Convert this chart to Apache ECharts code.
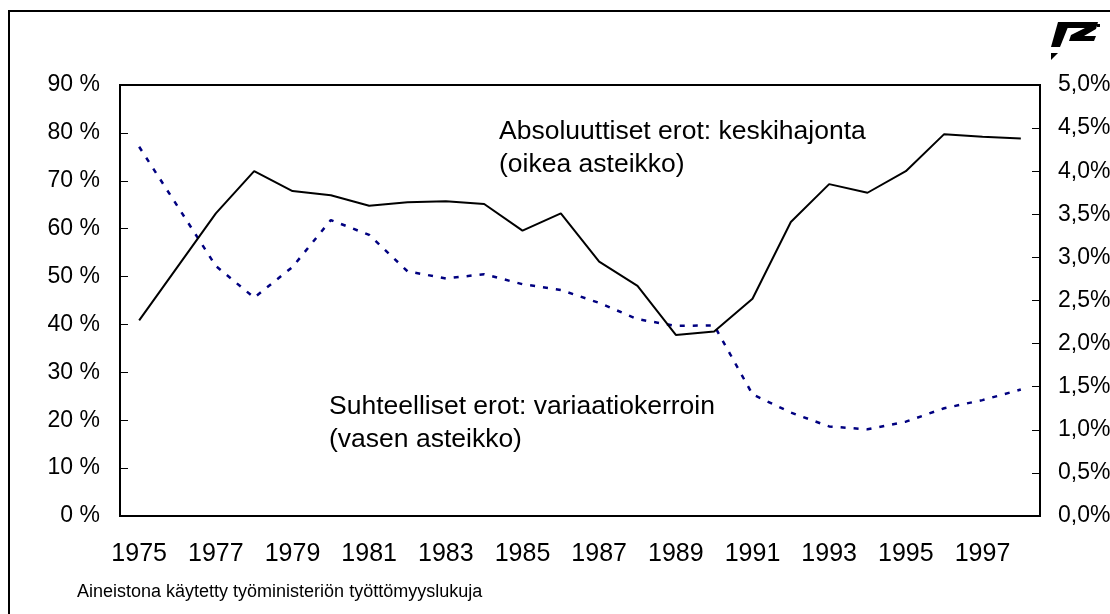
<!DOCTYPE html>
<html>
<head>
<meta charset="utf-8">
<script src="https://cdn.jsdelivr.net/npm/echarts@6/dist/echarts.min.js"></script>
<style>
html,body{margin:0;padding:0;background:#fff;}
#chart{width:1110px;height:614px;}
</style>
</head>
<body>
<div id="chart"></div>
<script>
const years = ['1975','1976','1977','1978','1979','1980','1981','1982','1983','1984','1985','1986','1987','1988','1989','1990','1991','1992','1993','1994','1995','1996','1997','1998'];
// Absoluuttiset erot: keskihajonta (right axis, %)
const keskihajonta = [2.27,2.89,3.51,4.00,3.77,3.72,3.60,3.64,3.65,3.62,3.31,3.51,2.95,2.67,2.10,2.14,2.52,3.41,3.85,3.75,4.00,4.43,4.40,4.38];
// Suhteelliset erot: variaatiokerroin (left axis, %)
const variaatiokerroin = [77.1,64.7,52.2,45.6,52.0,61.8,58.7,51.1,49.6,50.5,48.4,47.2,44.5,41.1,39.7,39.8,25.4,21.6,18.7,18.1,19.7,22.5,24.2,26.4];
const labelAbs = ['Absoluuttiset erot: keskihajonta', '(oikea asteikko)'];
const labelRel = ['Suhteelliset erot: variaatiokerroin', '(vasen asteikko)'];
const sourceText = 'Aineistona käytetty työministeriön työttömyyslukuja';

const FONT = 'Liberation Sans, Arial, sans-serif';
const chart = echarts.init(document.getElementById('chart'), null, {renderer:'canvas'});
chart.setOption({
  animation:false,
  backgroundColor:'#fff',
  grid:{left:120,right:70,top:85,bottom:98,containLabel:false,outerBoundsMode:'none',show:true,borderColor:'#000',borderWidth:2,backgroundColor:'transparent'},
  xAxis:{
    type:'category', data:years, boundaryGap:true,
    axisLine:{lineStyle:{color:'#000',width:2}},
    axisTick:{inside:true,length:8,interval:1,lineStyle:{color:'#000',width:1}},
    axisLabel:{interval:1,color:'#000',fontFamily:FONT,fontSize:25,margin:26},
    splitLine:{show:false}
  },
  yAxis:[
    {type:'value',min:0,max:90,interval:10,position:'left',
     axisLine:{show:true,lineStyle:{color:'#000',width:2}},
     axisTick:{show:true,inside:true,length:8,lineStyle:{color:'#000',width:1}},
     axisLabel:{color:'#000',fontFamily:FONT,fontSize:23,margin:20,formatter:v=>v+' %'},
     splitLine:{show:false}},
    {type:'value',min:0,max:5,interval:0.5,position:'right',
     axisLine:{show:true,lineStyle:{color:'#000',width:2}},
     axisTick:{show:true,inside:true,length:8,lineStyle:{color:'#000',width:1}},
     axisLabel:{color:'#000',fontFamily:FONT,fontSize:23,margin:18,formatter:v=>v.toFixed(1).replace('.',',')+'%'},
     splitLine:{show:false}}
  ],
  series:[
    {type:'line',yAxisIndex:1,data:keskihajonta,symbol:'none',lineStyle:{color:'#000',width:2},z:3},
    {type:'line',yAxisIndex:0,data:variaatiokerroin,symbol:'none',lineStyle:{color:'#000080',width:2.5,type:[5,8]},z:2}
  ],
  graphic:[
    {type:'rect',shape:{x:9,y:11,width:1200,height:700},style:{fill:'none',stroke:'#000',lineWidth:2},silent:true},
    {type:'text',left:499,top:115,style:{text:labelAbs.join('\n'),font:'26.5px '+FONT,fill:'#000',lineHeight:33}},
    {type:'text',left:329,top:390,style:{text:labelRel.join('\n'),font:'26.5px '+FONT,fill:'#000',lineHeight:33}},
    {type:'text',left:77,top:583,style:{text:sourceText,font:'18px '+FONT,fill:'#000'}},
    {type:'polygon',shape:{points:[[1058,22],[1070,22],[1060,47],[1051,47]]},style:{fill:'#000'}},
    {type:'polygon',shape:{points:[[1066,22],[1098,22],[1096,29],[1084,36],[1096,36],[1094,41],[1069,41],[1071,35],[1085,28],[1064,28]]},style:{fill:'#000'}},
    {type:'polygon',shape:{points:[[1051,53],[1058,53],[1051,60]]},style:{fill:'#000'}},
    {type:'rect',shape:{x:1097,y:24,width:3,height:3},style:{fill:'#000'}}
  ]
});
</script>
</body>
</html>
